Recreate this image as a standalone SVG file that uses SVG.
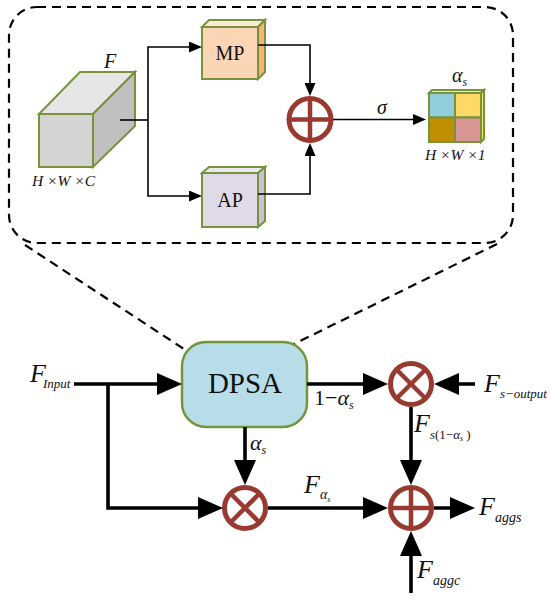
<svg xmlns="http://www.w3.org/2000/svg" width="550" height="603" viewBox="0 0 550 603">
<style>
.t{fill:#111}
.i{font-style:italic}
.thin{stroke:#000;stroke-width:1.6;fill:none}
.thick{stroke:#000;stroke-width:3.6;fill:none}
.op{fill:#fff;stroke:#993a31;stroke-width:5}
.opl{stroke:#993a31;stroke-width:4.5}
.g{stroke:#77933c;stroke-width:2}
.dash{stroke:#000;stroke-width:2.2;stroke-dasharray:9,6;fill:none}
</style>
<defs>
<marker id="as" markerUnits="userSpaceOnUse" markerWidth="13" markerHeight="11" refX="9" refY="5.5" orient="auto"><path d="M0,0 L13,5.5 L0,11 Z" fill="#000"/></marker>
<marker id="al" markerUnits="userSpaceOnUse" markerWidth="25" markerHeight="22" refX="17" refY="11" orient="auto"><path d="M0,0 L25,11 L0,22 Z" fill="#000"/></marker>
</defs>
<rect width="550" height="603" fill="#fff"/>
<g id="panel">
<rect x="9" y="7" width="504" height="236" rx="28" fill="#daedf3" class="dash"/>
</g>
<g id="zoomlines">
<line x1="25" y1="245" x2="187" y2="351" class="dash"/>
<line x1="497" y1="244" x2="292" y2="345" class="dash"/>
</g>
<g id="cubeF" font-family="Times New Roman, Liberation Serif, serif">
<polygon points="39,114 80,72 135,72 93,114" fill="#e6e6e6" class="g"/>
<polygon points="93,114 135,72 135,126 93,167" fill="#c0c0c0" class="g"/>
<rect x="39" y="114" width="54" height="53" fill="#d4d4d4" class="g"/>
<text x="104" y="68" class="t i" font-size="20">F</text>
<text x="32" y="186" class="t i" font-size="15.5">H ×W ×C</text>
</g>
<g id="MP" font-family="Times New Roman, Liberation Serif, serif">
<polygon points="202,27 209,20 265,20 258,27" fill="#fde9d9" class="g"/>
<polygon points="258,27 265,20 265,72 258,79" fill="#f7b27c" class="g"/>
<rect x="202" y="27" width="56" height="52" fill="#fcd5b5" class="g"/>
<text x="230" y="60" class="t" font-size="20" text-anchor="middle">MP</text>
</g>
<g id="AP" font-family="Times New Roman, Liberation Serif, serif">
<polygon points="202,173 209,167 265,167 258,173" fill="#ece9f1" class="g"/>
<polygon points="258,173 265,167 265,221 258,227" fill="#c8c0d6" class="g"/>
<rect x="202" y="173" width="56" height="54" fill="#e0dae8" class="g"/>
<text x="230" y="207" class="t" font-size="20" text-anchor="middle">AP</text>
</g>
<g id="plusTop">
<circle cx="310" cy="119.5" r="21" class="op"/>
<line x1="289" y1="119.5" x2="331" y2="119.5" class="opl"/>
<line x1="310" y1="98.5" x2="310" y2="140.5" class="opl"/>
</g>
<g id="alphaGrid" font-family="Times New Roman, Liberation Serif, serif">
<polygon points="429,93 432,90 484,90 481,93" fill="#e2efb0" class="g"/>
<polygon points="481,93 484,90 484,139 481,142" fill="#f3e27a" class="g"/>
<rect x="429" y="93" width="26" height="24.5" fill="#92cddc" class="g"/>
<rect x="455" y="93" width="26" height="24.5" fill="#ffd966" class="g"/>
<rect x="429" y="117.5" width="26" height="24.5" fill="#bf8f00" class="g"/>
<rect x="455" y="117.5" width="26" height="24.5" fill="#d99694" class="g"/>
<text x="452" y="82" class="t i" font-size="20">α<tspan font-size="12" dy="4">s</tspan></text>
<text x="425" y="160" class="t i" font-size="15.5">H ×W ×1</text>
</g>
<g id="DPSA">
<rect x="182" y="342" width="125" height="85" rx="24" fill="#b7dde8" stroke="#77933c" stroke-width="2.5"/>
<text x="245" y="393" class="t" font-size="29" text-anchor="middle" font-family="Times New Roman, Liberation Serif, serif">DPSA</text>
</g>
<g id="mulTop">
<circle cx="411" cy="384" r="20.5" class="op"/>
<line x1="396.5" y1="369.5" x2="425.5" y2="398.5" class="opl"/>
<line x1="425.5" y1="369.5" x2="396.5" y2="398.5" class="opl"/>
</g>
<g id="mulBottom">
<circle cx="245" cy="508" r="20.5" class="op"/>
<line x1="230.5" y1="493.5" x2="259.5" y2="522.5" class="opl"/>
<line x1="259.5" y1="493.5" x2="230.5" y2="522.5" class="opl"/>
</g>
<g id="plusBottom">
<circle cx="411" cy="508" r="20.5" class="op"/>
<line x1="390.5" y1="508" x2="431.5" y2="508" class="opl"/>
<line x1="411" y1="487.5" x2="411" y2="528.5" class="opl"/>
</g>
<g id="connectors">
<polyline points="120,120 148,120" class="thin"/>
<polyline points="148,120 148,47 198,47" class="thin" marker-end="url(#as)"/>
<polyline points="148,120 148,196 198,196" class="thin" marker-end="url(#as)"/>
<polyline points="258,45 310,45 310,92" class="thin" marker-end="url(#as)"/>
<polyline points="258,194 310,194 310,147" class="thin" marker-end="url(#as)"/>
<line x1="333" y1="119.5" x2="422" y2="119.5" class="thin" marker-end="url(#as)"/>
<line x1="74" y1="384" x2="174" y2="384" class="thick" marker-end="url(#al)"/>
<polyline points="108,384 108,508 215,508" class="thick" marker-end="url(#al)"/>
<line x1="245" y1="427" x2="245" y2="477" class="thick" marker-end="url(#al)"/>
<line x1="307" y1="384" x2="380" y2="384" class="thick" marker-end="url(#al)"/>
<line x1="475" y1="384" x2="442" y2="384" class="thick" marker-end="url(#al)"/>
<line x1="411" y1="407" x2="411" y2="477" class="thick" marker-end="url(#al)"/>
<line x1="268" y1="508" x2="380" y2="508" class="thick" marker-end="url(#al)"/>
<line x1="434" y1="508" x2="467" y2="508" class="thick" marker-end="url(#al)"/>
<line x1="411" y1="593" x2="411" y2="539" class="thick" marker-end="url(#al)"/>
</g>
<g id="labels" font-family="Times New Roman, Liberation Serif, serif">
<text x="377" y="114" class="t i" font-size="20">σ</text>
<text x="30" y="382" class="t i" font-size="26">F<tspan font-size="13" dy="6" dx="-3">Input</tspan></text>
<text x="250" y="450" class="t i" font-size="22">α<tspan font-size="12" dy="4">s</tspan></text>
<text x="314" y="405" class="t" font-size="22">1−<tspan class="i">α</tspan><tspan class="i" font-size="12" dy="4">s</tspan></text>
<text x="484" y="392" class="t i" font-size="26">F<tspan font-size="13" dy="6">s−output</tspan></text>
<text x="414" y="432" class="t i" font-size="26">F<tspan font-size="13" dy="7">s</tspan><tspan font-size="13" font-style="normal">(1−</tspan><tspan font-size="13">α</tspan><tspan font-size="8" dy="2">s</tspan><tspan font-size="13" font-style="normal" dy="-2"> )</tspan></text>
<text x="304" y="493" class="t i" font-size="26">F<tspan font-size="14" dy="6">α</tspan><tspan font-size="8" dy="3">s</tspan></text>
<text x="479" y="515" class="t i" font-size="26">F<tspan font-size="14" dy="7">aggs</tspan></text>
<text x="417" y="578" class="t i" font-size="26">F<tspan font-size="14" dy="7">aggc</tspan></text>
</g>
</svg>
